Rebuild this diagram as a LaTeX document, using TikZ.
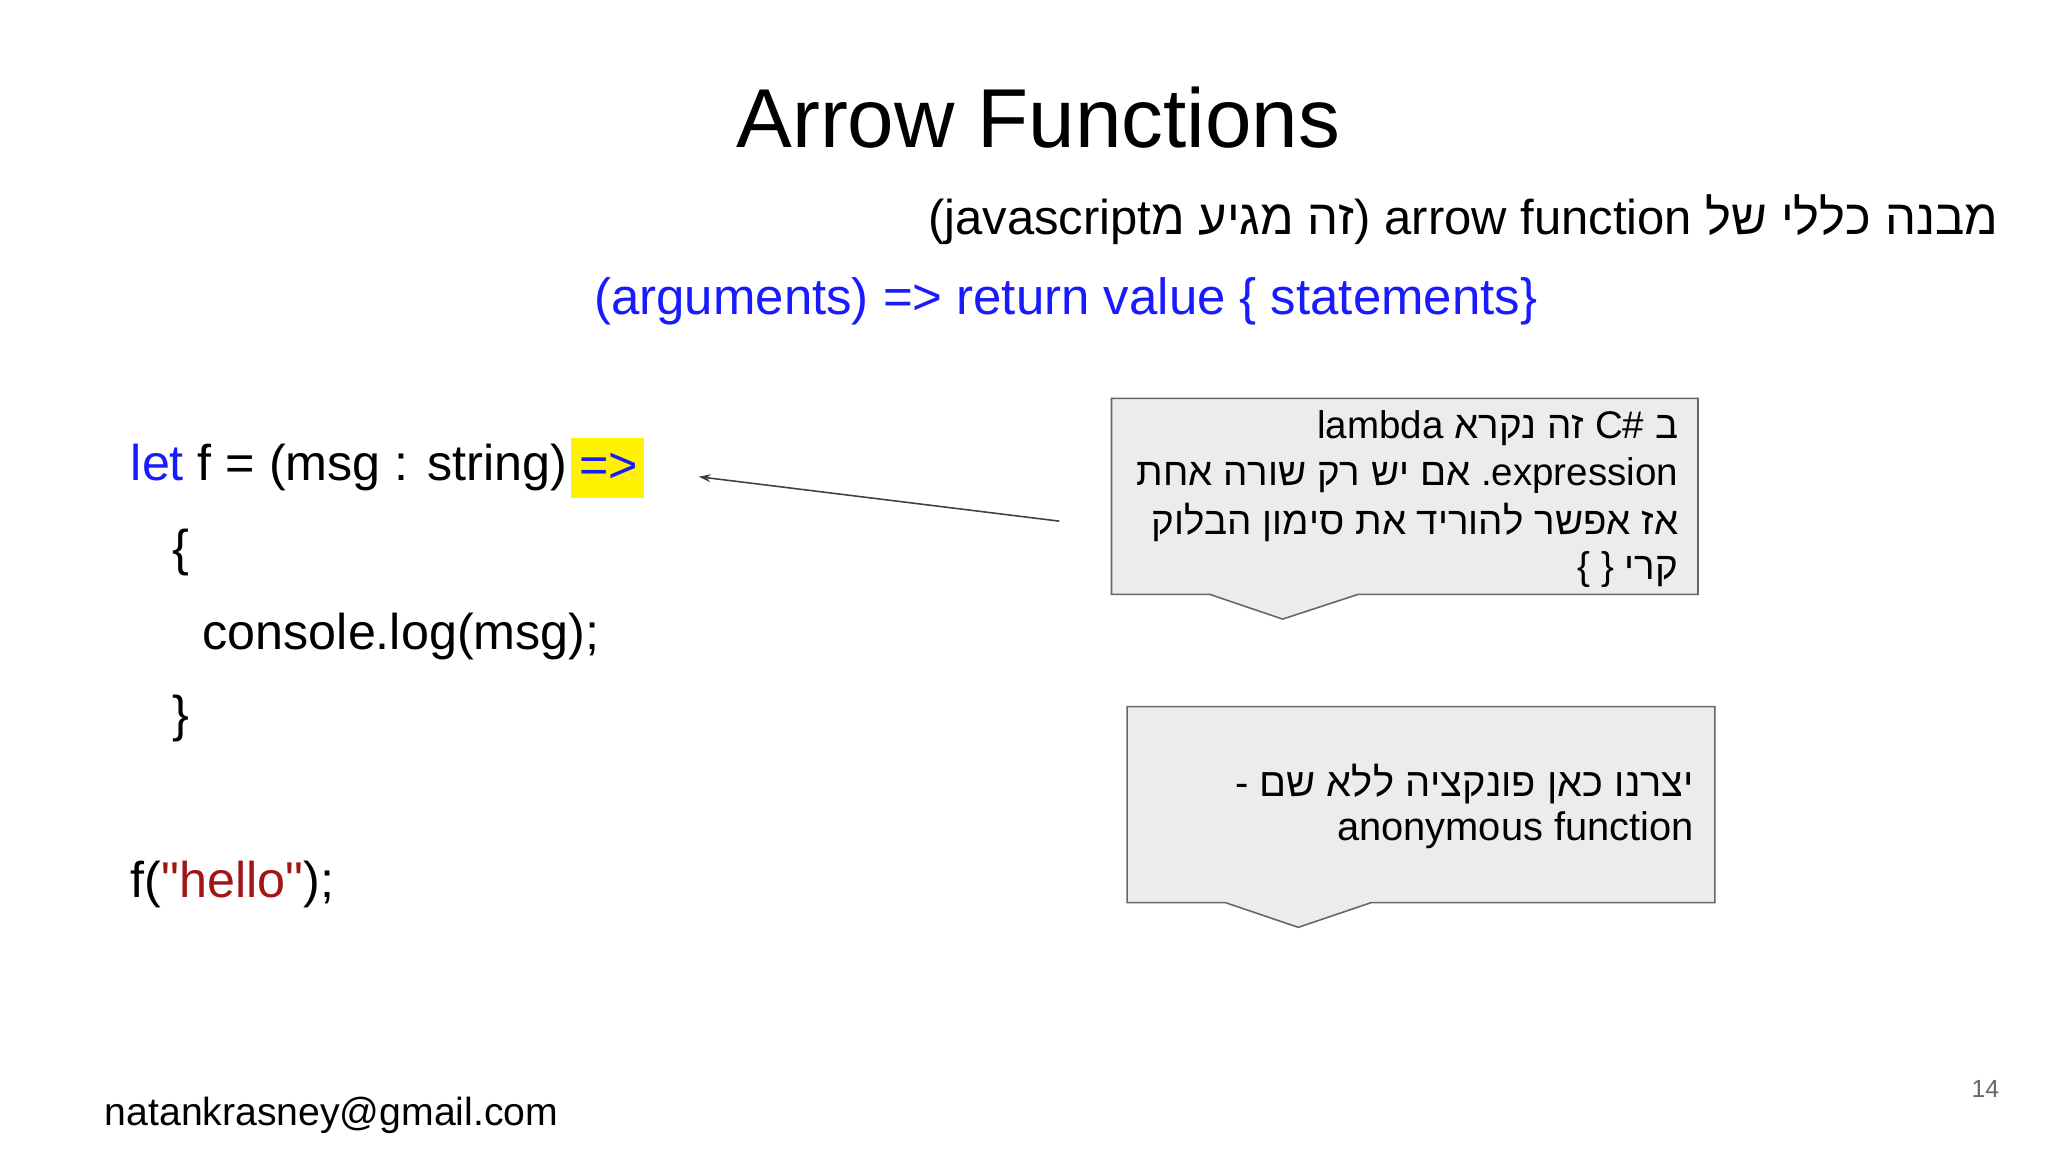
\documentclass[tikz,border=0pt]{standalone}
\usepackage{fontspec}
\setmainfont{Liberation Sans}
\newfontfamily\plainfont{Liberation Sans}
\TeXXeTstate=1
\usetikzlibrary{arrows.meta}
\definecolor{codeblue}{HTML}{1A1AFF}
\definecolor{codered}{HTML}{A31515}
\definecolor{callfill}{HTML}{ECECEF}
\definecolor{callline}{HTML}{666666}
\tikzset{
  txt/.style={inner sep=0pt,font=\fontsize{36}{40}\selectfont},
  code/.style={inner sep=0pt,anchor=west,font=\plainfont\fontsize{38.5}{40}\selectfont},
  calltxt/.style={inner sep=0pt,anchor=east,font=\fontsize{29.5}{32}\selectfont},
  callout/.style={fill=callfill,draw=callline,line width=1.2pt},
}
\begin{document}
\begin{tikzpicture}[x=1pt,y=-1pt]
\useasboundingbox[fill=white] (0,0) rectangle (1568,882);
\node[txt,font=\fontsize{64}{68}\selectfont] (title) at (795,90) {Arrow Functions};
\node[txt,anchor=east,font=\fontsize{37.5}{40}\selectfont] (sub) at (1530,168) {(javascript\beginR זה מגיע מ\endR) arrow function \beginR מבנה כללי של\endR};
\node[txt,text=codeblue,font=\fontsize{39}{42}\selectfont] (syntax) at (816,231) {(arguments) => return value \{ statements\}};
% code
\fill[yellow] (437,335) rectangle (493,381);
\node[code] (l1) at (100,358) {\textcolor{codeblue}{let} f = (msg : string)};
\node[code,anchor=center,text=codeblue] (fat) at (466,358) {=>};
\node[code] (l2) at (132,423) {\{};
\node[code] (l3) at (155,487) {console.log(msg);};
\node[code] (l4) at (132,550) {\}};
\node[code] (l5) at (100,677) {f(\textcolor{codered}{"hello"});};
% callout 1
\draw[callout] (851,305) -- (1300,305) -- (1300,455) -- (1040,455) -- (982,474) -- (926,455) -- (851,455) -- cycle;
\node[calltxt] (c1a) at (1285,328) {lambda \beginR זה נקרא\endR{} C\# \beginR ב\endR};
\node[calltxt] (c1b) at (1285,364) {\beginR אם יש רק שורה אחת\endR{} .expression};
\node[calltxt] (c1c) at (1285,400) {\beginR אז אפשר להוריד את סימון הבלוק\endR};
\node[calltxt] (c1d) at (1285,436) {\{ \} \beginR קרי\endR};
% callout 2
\draw[callout] (863,541) -- (1313,541) -- (1313,691) -- (1050,691) -- (994,710) -- (938,691) -- (863,691) -- cycle;
\node[calltxt,font=\fontsize{30.5}{32}\selectfont] (c2a) at (1297,600) {- \beginR יצרנו כאן פונקציה ללא שם\endR};
\node[calltxt,font=\fontsize{30.5}{32}\selectfont] (c2b) at (1297,636) {anonymous function};
% arrow
\coordinate (from) at (811,399);
\coordinate (to) at (535,365);
\draw[line width=1.2pt,draw=black!75,-{Stealth[length=9pt,width=6pt]}] (from) -- (to);
% footer
\node[txt,anchor=west,font=\fontsize{30}{32}\selectfont] (mail) at (80,854) {natankrasney@gmail.com};
\node[txt,text=black!60,font=\fontsize{19}{22}\selectfont] (pg) at (1520,834) {14};
\end{tikzpicture}
\end{document}
